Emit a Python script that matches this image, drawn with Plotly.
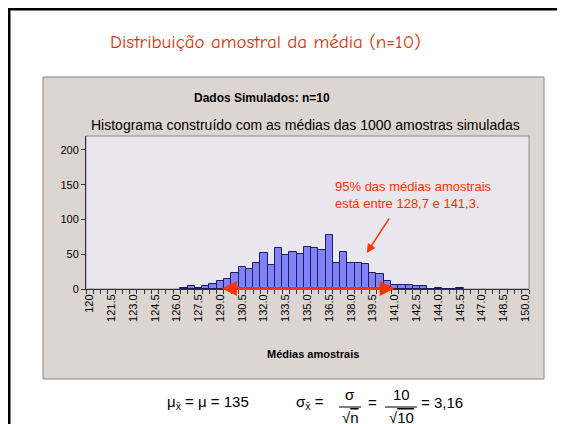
import plotly.graph_objects as go

# ---------------- data ----------------
bin_centers = [126.5, 127.0, 127.5, 128.0, 128.5, 129.0, 129.5, 130.0, 130.5, 131.0,
               131.5, 132.0, 132.5, 133.0, 133.5, 134.0, 134.5, 135.0, 135.5, 136.0,
               136.5, 137.0, 137.5, 138.0, 138.5, 139.0, 139.5, 140.0, 140.5, 141.0,
               141.5, 142.0, 142.5, 143.0, 143.5, 144.0, 144.5, 145.0, 145.5]
counts = [2, 4, 2, 5, 7, 12, 15, 23, 31, 29,
          38, 52, 35, 59, 49, 53, 51, 60, 59, 56,
          78, 38, 53, 37, 37, 36, 23, 22, 12, 6,
          6, 6, 4, 5, 0, 1, 0, 0, 1]
tick_vals = [120, 121.5, 123.0, 124.5, 126.0, 127.5, 129.0, 130.5, 132.0, 133.5, 135.0,
             136.5, 138.0, 139.5, 141.0, 142.5, 144.0, 145.5, 147.0, 148.5, 150.0]
tick_text = ["120", "121.5", "123.0", "124.5", "126.0", "127.5", "129.0", "130.5", "132.0",
             "133.5", "135.0", "136.5", "138.0", "139.5", "141.0", "142.5", "144.0", "145.5",
             "147.0", "148.5", "150.0"]
y_ticks = [0, 50, 100, 150, 200]
interval = (129.0, 141.0)
note_arrow_tail = (140.69, 103.6)
note_arrow_tip = (139.08, 51.8)
note_pos = (136.76, 134.5)

# ---------------- layout helpers (screen pixel -> paper) ----------------
OFF = 8                      # page body margin
SL, SR, ST, SB = 86, 529, 136, 289   # plot area on screen
W, H = 565 - OFF, 424 - OFF
def px(x):
    return (x - SL) / (SR - SL)
def py(y):
    return (SB - y) / (SB - ST)

RED = "#ff3300"
fig = go.Figure()
fig.add_trace(go.Bar(
    x=bin_centers, y=counts, width=0.5,
    marker=dict(color="#8282f8", line=dict(color="#1c1c60", width=1)),
    hoverinfo="x+y",
))

shapes = [
    # chart panel
    dict(type="rect", xref="paper", yref="paper", x0=px(43), x1=px(544), y0=py(379), y1=py(77),
         fillcolor="#ddd5d1", line=dict(color="#8a8580", width=1), layer="below"),
    # plot area
    dict(type="rect", xref="paper", yref="paper", x0=0, x1=1, y0=0, y1=1,
         fillcolor="#e9e6ed", line=dict(color="#8c8c8c", width=1), layer="below"),
    # slide border (top and left)
    dict(type="line", xref="paper", yref="paper", x0=px(8), x1=px(575), y0=py(9), y1=py(9),
         line=dict(color="black", width=3)),
    dict(type="line", xref="paper", yref="paper", x0=px(9), x1=px(9), y0=py(8), y1=py(430),
         line=dict(color="black", width=3)),
    # fraction bars
    dict(type="line", xref="paper", yref="paper", x0=px(339), x1=px(361), y0=py(407), y1=py(407),
         line=dict(color="black", width=1)),
    dict(type="line", xref="paper", yref="paper", x0=px(385), x1=px(417), y0=py(407), y1=py(407),
         line=dict(color="black", width=1)),
]

ann = []
def txt(text, x, y, size, color="black", family="Liberation Sans, Arial, sans-serif",
        xanchor="center", yanchor="middle", align="center"):
    ann.append(dict(text=text, x=x, y=y, xref="paper", yref="paper", showarrow=False,
                    xanchor=xanchor, yanchor=yanchor, align=align,
                    font=dict(size=size, color=color, family=family)))

txt("Distribuição amostral da média (n=10)", px(265), py(42), 19, color="#d0380c",
    family="Comic Sans MS, Comic Neue, Lato, sans-serif")
txt("<b>Dados Simulados: n=10</b>", px(262), py(98), 12)
txt("Histograma construído com as médias das 1000 amostras simuladas", px(305), py(125), 14)
txt("<b>Médias amostrais</b>", px(313), py(354), 11)

# formulas
txt("μ<sub>x\u0304</sub> = μ = 135", px(165), py(402), 15, xanchor="left")
txt("σ<sub>x\u0304</sub> =", px(294), py(402), 15, xanchor="left")
txt("σ", px(350), py(394), 15)
txt("√<span style='text-decoration:overline'>n</span>", px(350), py(417), 15)
txt("=", px(372), py(402), 15)
txt("10", px(401), py(394), 15)
txt("√<span style='text-decoration:overline'>10</span>", px(401), py(417), 15)
txt("= 3,16", px(419), py(402), 15, xanchor="left")

# red note text and arrows (data coordinates)
ann.append(dict(text="95% das médias amostrais<br>está entre 128,7 e 141,3.",
                x=note_pos[0], y=note_pos[1], xref="x", yref="y", showarrow=False,
                xanchor="left", yanchor="middle", align="left",
                font=dict(size=13, color=RED, family="Liberation Sans, Arial, sans-serif")))
ann.append(dict(text="", x=note_arrow_tip[0], y=note_arrow_tip[1], xref="x", yref="y",
                ax=note_arrow_tail[0], ay=note_arrow_tail[1], axref="x", ayref="y",
                showarrow=True, arrowhead=2, arrowsize=1.2, arrowwidth=1.5, arrowcolor=RED))
ann.append(dict(text="", x=interval[1], y=0.6, xref="x", yref="y",
                ax=interval[0], ay=0.6, axref="x", ayref="y",
                showarrow=True, arrowhead=2, arrowside="end+start", arrowsize=1,
                arrowwidth=3, arrowcolor=RED))

fig.update_layout(
    width=W, height=H,
    margin=dict(l=SL - OFF, r=565 - SR, t=ST - OFF, b=424 - SB, pad=0),
    paper_bgcolor="white", plot_bgcolor="rgba(0,0,0,0)",
    showlegend=False, bargap=0,
    shapes=shapes, annotations=ann,
    font=dict(family="Liberation Sans, Arial, sans-serif", size=11, color="black"),
    xaxis=dict(range=[119.75, 150.25], tickmode="array", tickvals=tick_vals, ticktext=tick_text,
               tickangle=-90, ticks="", showgrid=False, zeroline=False,
               showline=True, linecolor="#333333", linewidth=1,
               tickfont=dict(size=11, color="black"),
               minor=dict(tickmode="linear", tick0=119.75, dtick=0.5, ticks="outside",
                          ticklen=4, tickcolor="#333333", showgrid=False)),
    yaxis=dict(range=[0, 220], tickmode="array", tickvals=y_ticks, ticks="outside", ticklen=4,
               tickcolor="#333333", showgrid=False, zeroline=False,
               showline=True, linecolor="#333333", linewidth=1,
               tickfont=dict(size=11, color="black")),
)

fig.write_html("out.html")
